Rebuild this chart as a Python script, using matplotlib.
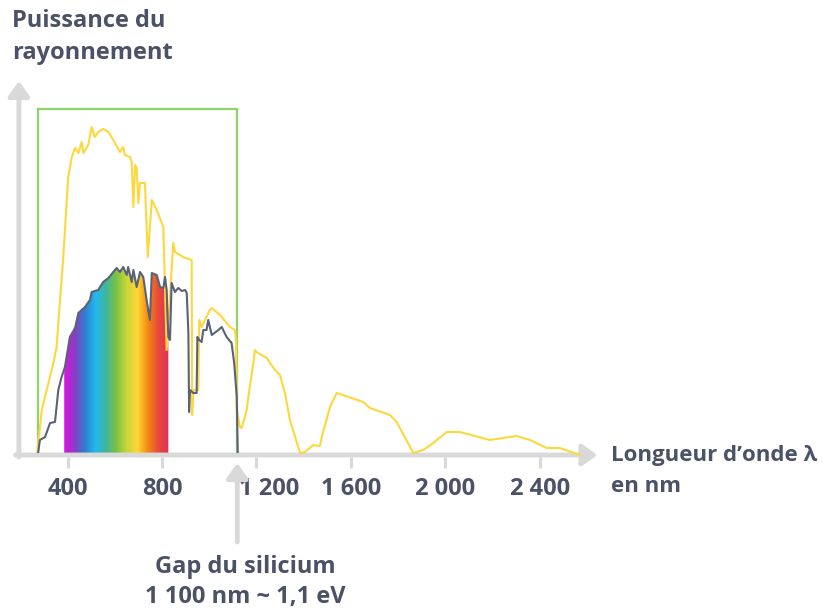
import matplotlib.pyplot as plt
import numpy as np
from matplotlib.colors import LinearSegmentedColormap
from matplotlib.patches import Rectangle

# spectre solaire (jaune) : longueur d'onde en nm, puissance en unites arbitraires
sun_nm = [272, 291, 340, 354, 361, 382, 403, 418, 432, 446, 460, 467, 488, 502, 516, 530,
          551, 573, 594, 622, 636, 643, 665, 672, 679, 686, 693, 700, 707, 728, 740, 757,
          778, 799, 806, 820, 848, 855, 890, 926, 928, 933, 954, 958, 968, 982, 1003, 1011,
          1046, 1088, 1109, 1114, 1117, 1130, 1138, 1159, 1166, 1187, 1194, 1201, 1244, 1258,
          1279, 1300, 1321, 1342, 1385, 1406, 1441, 1469, 1477, 1512, 1540, 1653, 1681, 1766,
          1794, 1865, 1907, 1949, 2006, 2062, 2189, 2302, 2359, 2430, 2486, 2570]
sun_pw = [3, 45, 92, 108, 132, 198, 278, 298, 307, 302, 313, 302, 310, 328, 318, 323,
          326, 323, 315, 303, 308, 300, 298, 292, 248, 290, 287, 252, 272, 272, 198, 255,
          245, 232, 228, 105, 212, 203, 198, 195, 40, 65, 65, 135, 128, 135, 145, 147,
          140, 128, 125, 115, 45, 28, 27, 45, 58, 92, 105, 103, 97, 92,
          85, 80, 62, 35, 2, 3, 10, 9, 18, 48, 62, 53, 47, 40,
          33, 2, 5, 12, 23, 23, 15, 19, 15, 7, 7, 0]

# part absorbee par le silicium (gris)
si_nm = [276, 283, 305, 326, 347, 361, 375, 389, 403, 410, 432, 446, 474, 495, 502, 530,
         551, 573, 594, 608, 622, 636, 651, 657, 672, 679, 693, 707, 721, 735, 749, 757,
         778, 792, 806, 813, 820, 827, 834, 841, 855, 869, 884, 898, 905, 912, 915, 919,
         933, 947, 950, 958, 968, 975, 989, 996, 1011, 1039, 1053, 1074, 1095, 1106, 1117, 1121]
si_pw = [3, 15, 18, 32, 33, 65, 78, 88, 108, 118, 127, 142, 148, 155, 163, 165,
         173, 177, 183, 187, 183, 188, 180, 188, 173, 185, 168, 183, 178, 155, 135, 182,
         180, 168, 167, 178, 165, 118, 115, 172, 163, 167, 164, 165, 162, 122, 43, 65,
         62, 62, 118, 115, 113, 125, 125, 135, 120, 125, 128, 118, 112, 92, 58, 3]

tick_nm = [400, 800, 1200, 1600, 2000, 2400]
tick_labels = ['400', '800', '1 200', '1 600', '2 000', '2 400']
visible_nm = (386, 827)
box_nm = (276, 1117)
box_top = 346
gap_nm = 1119

rainbow = ['#e011e6', '#8b3cc6', '#2f7fd0', '#22b8f0', '#3fb59a', '#7cc242',
           '#c9d63a', '#fdd835', '#f38a12', '#e84a3c', '#e0305a']

TXT = '#4b5267'
AX = '#d9d9d9'
plt.rcParams['font.family'] = ['Open Sans', 'DejaVu Sans']

fig = plt.figure(figsize=(8.22, 6.09), dpi=100)
ax = fig.add_axes([0, 0, 1, 1])
ax.set_xlim(114, 3596)
ax.set_ylim(-154, 455)
ax.axis('off')

# axes avec fleches
arrow = dict(arrowstyle='-|>,head_length=0.45,head_width=0.32', color=AX, lw=3.5,
             mutation_scale=20, shrinkA=0, shrinkB=0)
ax.annotate('', xy=(2645, 0), xytext=(180, 0), arrowprops=arrow)
ax.annotate('', xy=(194, 374), xytext=(194, -2), arrowprops=arrow)
ax.vlines(tick_nm, -2, -13, color=AX, lw=2.2)

# cadre vert
ax.add_patch(Rectangle((box_nm[0], 0), box_nm[1] - box_nm[0], box_top,
                       fill=False, ec='#8fd46b', lw=1.6, zorder=2))

# degrade du visible sous la courbe grise
cmap = LinearSegmentedColormap.from_list('vis', rainbow)
grad = np.linspace(0, 1, 256)[None, :]
im = ax.imshow(grad, cmap=cmap, aspect='auto', zorder=1,
               extent=(visible_nm[0], visible_nm[1], 0, 400))
si_x = np.array(si_nm)
si_y = np.array(si_pw)
inside = (si_x > visible_nm[0]) & (si_x < visible_nm[1])
px = [visible_nm[0]] + list(si_x[inside]) + [visible_nm[1]]
py = [np.interp(visible_nm[0], si_x, si_y)] + list(si_y[inside]) + [np.interp(visible_nm[1], si_x, si_y)]
clip = ax.fill(px + [visible_nm[1], visible_nm[0]], py + [0, 0], facecolor='none', edgecolor='none')[0]
im.set_clip_path(clip)

ax.plot(sun_nm, sun_pw, color='#fdd83d', lw=1.5, zorder=3, solid_joinstyle='round')
ax.plot(si_nm, si_pw, color='#5b6277', lw=1.5, zorder=4, solid_joinstyle='round')

# graduations
fs = dict(color=TXT, fontsize=17, fontweight='bold')
for t, lab in zip(tick_nm, tick_labels):
    shift = 55 if t == 1200 else 0
    ax.text(t + shift, -34, lab, ha='center', va='center', **fs)

# fleche du gap
ax.annotate('', xy=(gap_nm, -8), xytext=(gap_nm, -87),
            arrowprops=dict(arrowstyle='-|>,head_length=0.45,head_width=0.32', color=AX,
                            lw=3.5, mutation_scale=20, shrinkA=0, shrinkB=0))
ax.text(0.298, 1 - 567 / 609, 'Gap du silicium', transform=ax.transAxes,
        ha='center', va='center', **fs)
ax.text(0.298, 1 - 597 / 609, '1 100 nm ~ 1,1 eV', transform=ax.transAxes,
        ha='center', va='center', **fs)

ax.text(12 / 822, 1 - 21 / 609, 'Puissance du', transform=ax.transAxes,
        ha='left', va='center', **fs)
ax.text(12 / 822, 1 - 53 / 609, 'rayonnement', transform=ax.transAxes,
        ha='left', va='center', **fs)
ax.text(611 / 822, 1 - 455 / 609, 'Longueur d\u2019onde \u03bb', transform=ax.transAxes,
        ha='left', va='center', fontsize=16, color=TXT, fontweight='bold')
ax.text(611 / 822, 1 - 487 / 609, 'en nm', transform=ax.transAxes,
        ha='left', va='center', fontsize=16, color=TXT, fontweight='bold')

fig.savefig('out.png', dpi=100)
